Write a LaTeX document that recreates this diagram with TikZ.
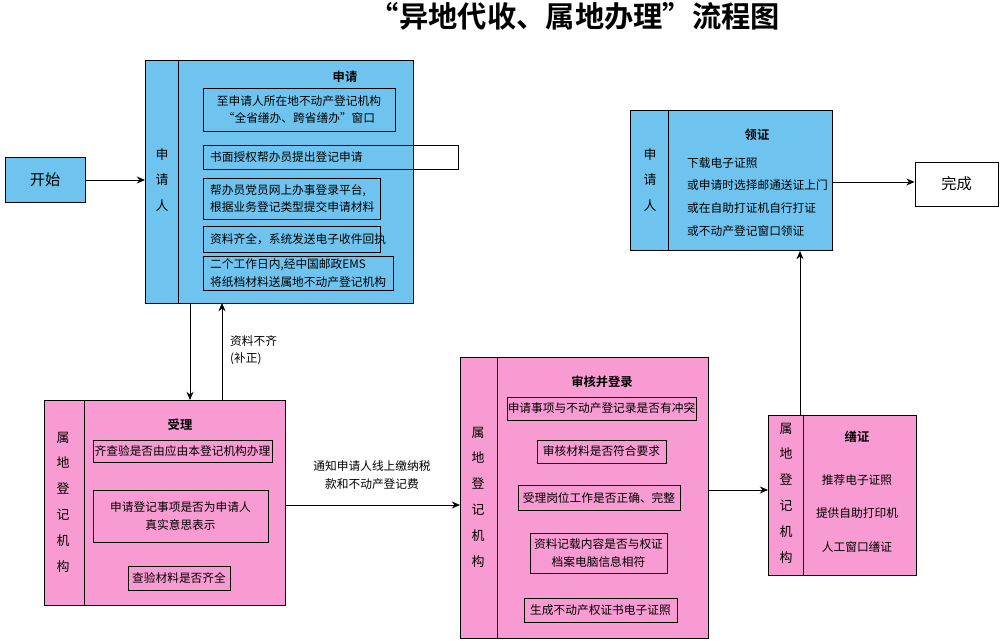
\documentclass[tikz,border=0pt]{standalone}
\usepackage{fontspec}
\setmainfont{Noto Sans CJK SC}[BoldFont={Noto Sans CJK SC Bold}]
\usetikzlibrary{arrows.meta}
\definecolor{bl}{HTML}{6EC4EE}
\definecolor{pk}{HTML}{F79BD2}
\tikzset{
 big/.style={draw=black,line width=0.8pt},
 inb/.style={draw=black,line width=0.7pt},
 txt/.style={font=\fontsize{10}{15}\selectfont,align=center,inner sep=0pt},
 ltxt/.style={font=\fontsize{10}{15}\selectfont,align=left,anchor=west,inner sep=0pt},
 hd/.style={font=\fontsize{10.5}{15}\selectfont\bfseries,inner sep=0pt},
 vt/.style={font=\fontsize{11}{22}\selectfont,align=center,inner sep=0pt},
 arr/.style={-{Stealth[length=7pt,width=6pt]},line width=0.8pt}
}
\begin{document}
\begin{tikzpicture}[x=0.03cm,y=-0.03cm]
\useasboundingbox (0,0) rectangle (1000,641);
\node[font=\fontsize{25}{30}\selectfont\bfseries] (title) at (575,16) {“异地代收、属地办理”流程图};
% start
\node[big,fill=bl,minimum width=80*0.03cm,minimum height=45*0.03cm,font=\fontsize{13}{15}\selectfont] (start) at (45,180) {开始};
% applicant box
\draw[big,fill=bl] (145,60) rectangle (413,303);
\draw[big] (178,60) -- (178,303);
\node[vt] (l1) at (162,180) {申\\请\\人};
\node[hd] (h1) at (345,77) {申请};
\draw[inb] (203,88) rectangle (395,131); \node[txt] (a1) at (299,109.5) {至申请人所在地不动产登记机构\\“全省缮办、跨省缮办”窗口};
\draw[inb] (203,145) rectangle (458,169); \node[ltxt] (a2) at (210,157) {书面授权帮办员提出登记申请};
\draw[inb] (203,178) rectangle (380,219); \node[ltxt] (a3) at (210,198.5) {帮办员党员网上办事登录平台,\\根据业务登记类型提交申请材料};
\draw[inb] (203,226) rectangle (380,252); \node[ltxt] (a4) at (210,239) {资料齐全，系统发送电子收件回执};
\draw[inb] (203,256) rectangle (393,290); \node[ltxt] (a5) at (210,273) {二个工作日内,经中国邮政EMS\\将纸档材料送属地不动产登记机构};
\coordinate (ap) at (145,180);
\draw[arr] (start) -- (ap);
% left pink
\draw[big,fill=pk] (44,400) rectangle (285,605);
\draw[big] (84,400) -- (84,605);
\node[vt] (l2) at (63,502) {属\\地\\登\\记\\机\\构};
\node[hd] (h2) at (180,425) {受理};
\draw[inb] (93,440) rectangle (272,462); \node[txt] (b1) at (182.5,451) {齐查验是否由应由本登记机构办理};
\draw[inb] (93,490) rectangle (268,542); \node[txt] (b2) at (180.5,516) {申请登记事项是否为申请人\\真实意思表示};
\draw[inb] (128,566) rectangle (230,590); \node[txt] (b3) at (179,578) {查验材料是否齐全};
\coordinate (d1) at (190,303); \coordinate (d2) at (190,400);
\coordinate (u1) at (222,400); \coordinate (u2) at (222,303);
\draw[arr] (d1) -- (d2);
\draw[arr] (u1) -- (u2);
\node[txt,align=left,anchor=west] (m1) at (230,350) {资料不齐\\(补正)};
% middle pink
\draw[big,fill=pk] (460,357) rectangle (708,638);
\draw[big] (497,357) -- (497,638);
\node[vt] (l3) at (478,497) {属\\地\\登\\记\\机\\构};
\node[hd] (h3) at (602,382) {审核并登录};
\draw[inb] (507,397) rectangle (696,420); \node[txt] (c1) at (601.5,408.5) {申请事项与不动产登记录是否有冲突};
\draw[inb] (537,440) rectangle (666,463); \node[txt] (c2) at (601.5,451.5) {审核材料是否符合要求};
\draw[inb] (518,485) rectangle (680,510); \node[txt] (c3) at (599,497.5) {受理岗位工作是否正确、完整};
\draw[inb] (530,533) rectangle (667,573); \node[txt] (c4) at (598.5,553) {资料记载内容是否与权证\\档案电脑信息相符};
\draw[inb] (524,598) rectangle (677,622); \node[txt] (c5) at (600.5,610) {生成不动产权证书电子证照};
\coordinate (p1) at (285,505); \coordinate (p2) at (460,505);
\draw[arr] (p1) -- (p2);
\node[txt] (m2) at (372,475) {通知申请人线上缴纳税\\款和不动产登记费};
% right pink
\draw[big,fill=pk] (768,415) rectangle (916,575);
\draw[big] (803,415) -- (803,575);
\node[vt] (l4) at (786,493) {属\\地\\登\\记\\机\\构};
\node[hd] (h4) at (857,437) {缮证};
\node[txt] (e1) at (857,480) {推荐电子证照};
\node[txt] (e2) at (857,513) {提供自助打印机};
\node[txt] (e3) at (857,547) {人工窗口缮证};
\coordinate (q1) at (708,490); \coordinate (q2) at (768,490);
\draw[arr] (q1) -- (q2);
% top right blue
\draw[big,fill=bl] (630,110) rectangle (832,250);
\draw[big] (668,110) -- (668,250);
\node[vt] (l5) at (650,180) {申\\请\\人};
\node[hd] (h5) at (757,135) {领证};
\node[txt,align=left,anchor=north west,font=\fontsize{10}{19.5}\selectfont] (f1) at (687,157) {下载电子证照\\或申请时选择邮通送证上门\\或在自助打证机自行打证\\或不动产登记窗口领证};
\coordinate (r1) at (800,415); \coordinate (r2) at (800,251);
\draw[arr] (r1) -- (r2);
\node[big,fill=white,minimum width=83*0.03cm,minimum height=44*0.03cm,font=\fontsize{13}{15}\selectfont] (done) at (956.5,184) {完成};
\coordinate (s1) at (832,182);
\draw[arr] (s1) -- (done.west|-s1);
\end{tikzpicture}
\end{document}
